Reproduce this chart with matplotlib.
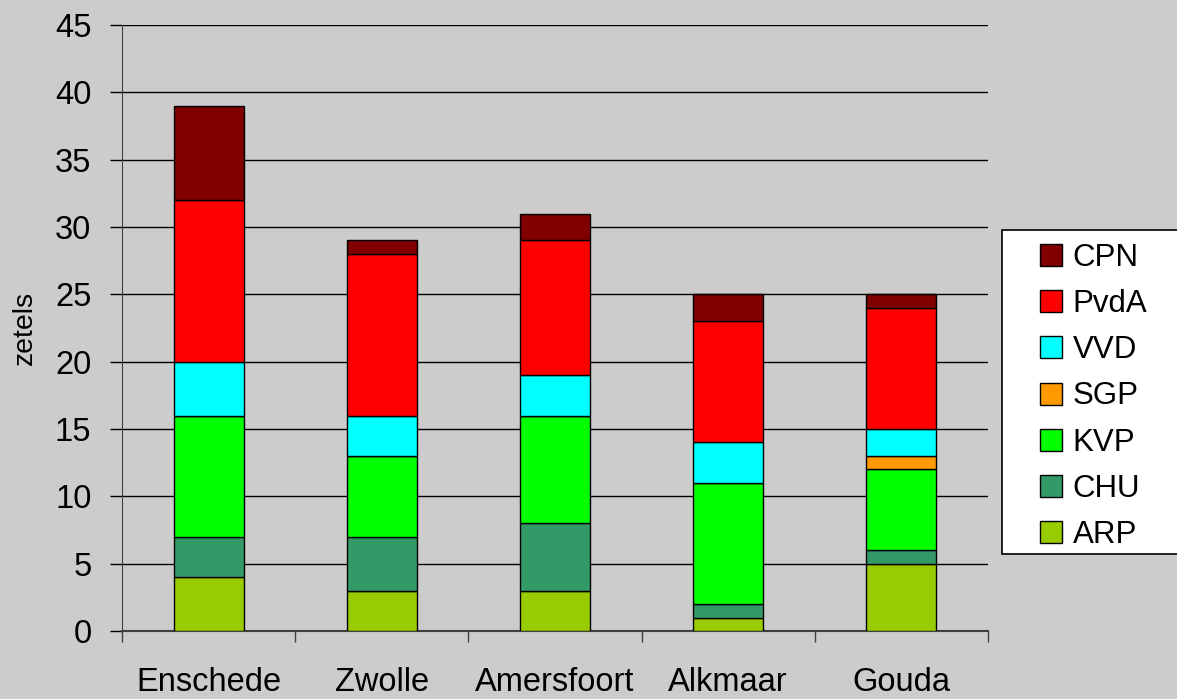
import numpy as np
import matplotlib.pyplot as plt
from matplotlib.patches import Rectangle

plt.rcParams['font.family'] = ['Liberation Sans', 'DejaVu Sans']

# seats per city, bottom to top of the stack
cities = ["Enschede", "Zwolle", "Amersfoort", "Alkmaar", "Gouda"]
parties = ["ARP", "CHU", "KVP", "SGP", "VVD", "PvdA", "CPN"]
arp = [4, 3, 3, 1, 5]
chu = [3, 4, 5, 1, 1]
kvp = [9, 6, 8, 9, 6]
sgp = [0, 0, 0, 0, 1]
vvd = [4, 3, 3, 3, 2]
pvda = [12, 12, 10, 9, 9]
cpn = [7, 1, 2, 2, 1]
colors = ["#99CC00", "#339966", "#00FF00", "#FF9900", "#00FFFF", "#FF0000", "#800000"]

series = [arp, chu, kvp, sgp, vvd, pvda, cpn]

W, H = 1177, 699
fig = plt.figure(figsize=(W / 100, H / 100), dpi=100, facecolor="#CCCCCC")
ax = fig.add_axes([122 / W, 1 - 631 / H, (988 - 122) / W, (631 - 25) / H])
ax.set_facecolor("#CCCCCC")

x = np.arange(len(cities))
bottom = np.zeros(len(cities))
handles = []
for name, vals, c in zip(parties, series, colors):
    vals = np.array(vals, dtype=float)
    b = ax.bar(x, vals, width=0.405, bottom=bottom, color=c, edgecolor="black",
               linewidth=1, label=name, zorder=3)
    handles.append(b)
    bottom += vals

ax.set_xlim(-0.5, len(cities) - 0.5)
ax.set_ylim(0, 45)
ax.set_yticks(np.arange(0, 46, 5))
ax.yaxis.grid(True, color="black", linewidth=1, zorder=0)
ax.set_xticks(x)
ax.set_xticklabels(cities)
ax.set_xticks(np.arange(-0.5, len(cities)), minor=True)
ax.tick_params(axis="x", which="major", length=0, pad=26, labelsize=23.5)
ax.tick_params(axis="x", which="minor", length=8, width=1, color="#404040", direction="out")
ax.tick_params(axis="y", length=9, width=1, color="black", labelsize=23.5, pad=13)
for s in ["top", "right"]:
    ax.spines[s].set_visible(False)
ax.spines["left"].set_color("#404040")
ax.spines["bottom"].set_color("#404040")
ax.spines["bottom"].set_linewidth(1.5)
ax.set_ylabel("zetels", fontsize=20.5, labelpad=12)

# legend box runs off the right edge of the picture
fig.patches.append(Rectangle((1002 / W, 1 - 554 / H), 300 / W, (554 - 230) / H,
                             transform=fig.transFigure, facecolor="white",
                             edgecolor="black", linewidth=1.2, zorder=1))
leg = fig.legend(handles[::-1], parties[::-1], loc="center left",
                 bbox_to_anchor=(1040 / W, 1 - 396.5 / H), fontsize=22.5,
                 frameon=False, handlelength=0.7, handleheight=0.7,
                 handletextpad=0.35, labelspacing=0.52, borderpad=0,
                 borderaxespad=0)
leg.set_zorder(5)

plt.savefig("out.png", dpi=100, facecolor=fig.get_facecolor())
plt.close()
